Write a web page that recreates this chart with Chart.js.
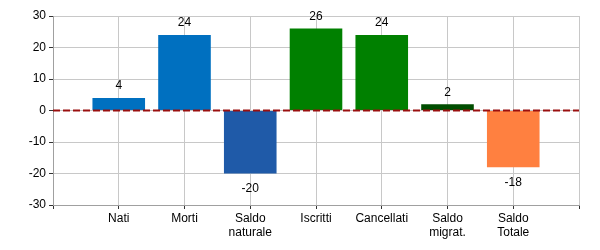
<!DOCTYPE html>
<html>
<head>
<meta charset="utf-8">
<script src="https://cdn.jsdelivr.net/npm/chart.js@4/dist/chart.umd.min.js"></script>
<style>
  html, body { margin: 0; padding: 0; background: #fff; }
  #wrap { width: 600px; height: 250px; }
</style>
</head>
<body>
<div id="wrap"><canvas id="chart-canvas" width="600" height="250"></canvas></div>
<script>
// empty slots at both ends so gridlines sit at the edges like the original
const categories = ['', 'Nati', 'Morti', ['Saldo', 'naturale'], 'Iscritti', 'Cancellati', ['Saldo', 'migrat.'], ['Saldo', 'Totale'], ''];
const values = [null, 4, 24, -20, 26, 24, 2, -18, null];
const barColors = ['#fff', '#0070c0', '#0070c0', '#1f5aa8', '#008000', '#008000', '#004d00', '#ff8040', '#fff'];
const yMin = -30, yMax = 30, yStep = 10;

const FONT = 'Liberation Sans, Arial, sans-serif';

// value numbers above / below each bar
const barLabels = {
    id: 'barLabels',
    afterDatasetsDraw(chart) {
        const ctx = chart.ctx;
        const meta = chart.getDatasetMeta(0);
        ctx.save();
        ctx.font = '12px ' + FONT;
        ctx.fillStyle = '#000';
        ctx.textAlign = 'center';
        meta.data.forEach((bar, i) => {
            const v = values[i];
            if (v === null) return;
            if (v >= 0) {
                ctx.textBaseline = 'bottom';
                ctx.fillText(String(v), bar.x, bar.y - 6);
            } else {
                ctx.textBaseline = 'top';
                ctx.fillText(String(v), bar.x, bar.y + 9);
            }
        });
        ctx.restore();
    }
};

// dashed zero line
const zeroLine = {
    id: 'zeroLine',
    afterDatasetsDraw(chart) {
        const ctx = chart.ctx;
        const area = chart.chartArea;
        const y = chart.scales.y.getPixelForValue(0);
        ctx.save();
        ctx.strokeStyle = '#9a0f0f';
        ctx.lineWidth = 2;
        ctx.setLineDash([7, 3]);
        ctx.beginPath();
        ctx.moveTo(area.left, y);
        ctx.lineTo(area.right, y);
        ctx.stroke();
        ctx.restore();
    }
};

new Chart(document.getElementById('chart-canvas'), {
    type: 'bar',
    data: {
        labels: categories,
        datasets: [{
            data: values,
            backgroundColor: barColors,
            borderWidth: 0,
            barPercentage: 0.8,
            categoryPercentage: 1
        }]
    },
    options: {
        responsive: false,
        animation: false,
        layout: { padding: { left: 0, right: 21, top: 16, bottom: 0 } },
        plugins: {
            legend: { display: false },
            tooltip: { enabled: false }
        },
        scales: {
            x: {
                offset: false,
                grid: { color: '#c8c8c8', tickLength: 4, tickColor: '#333', offset: false },
                border: { color: '#a0a0a0' },
                ticks: {
                    color: '#000',
                    font: { family: FONT, size: 12 },
                    maxRotation: 0,
                    autoSkip: false,
                    padding: 2
                },
                afterFit(scale) { scale.height = 45; }
            },
            y: {
                min: yMin,
                max: yMax,
                grid: { color: '#c8c8c8', tickLength: 4, tickColor: '#333' },
                border: { color: '#a0a0a0' },
                ticks: {
                    stepSize: yStep,
                    color: '#000',
                    font: { family: FONT, size: 12 },
                    padding: 3
                },
                afterFit(scale) { scale.width = 53; }
            }
        }
    },
    plugins: [barLabels, zeroLine]
});
</script>
</body>
</html>
